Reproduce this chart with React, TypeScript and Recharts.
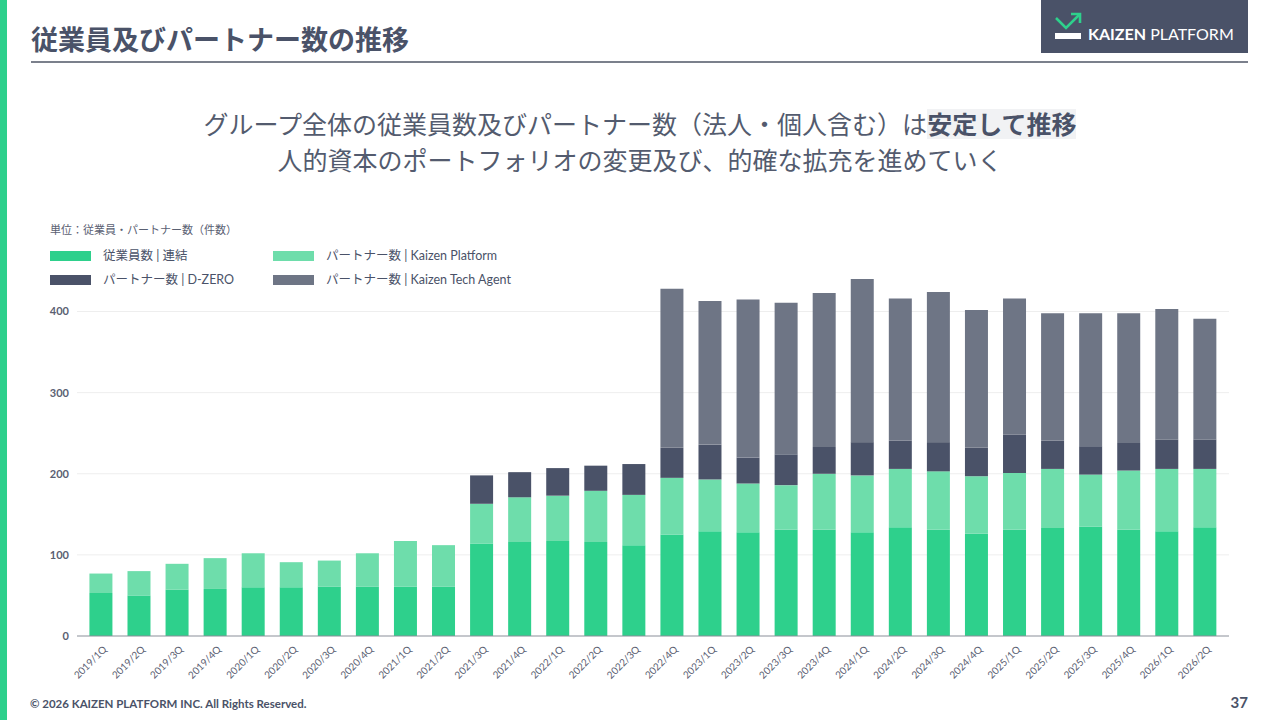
import React from 'react';
import { BarChart, Bar, XAxis, YAxis, CartesianGrid } from 'recharts';

const quarters = [
  '2019/1Q', '2019/2Q', '2019/3Q', '2019/4Q',
  '2020/1Q', '2020/2Q', '2020/3Q', '2020/4Q',
  '2021/1Q', '2021/2Q', '2021/3Q', '2021/4Q',
  '2022/1Q', '2022/2Q', '2022/3Q', '2022/4Q',
  '2023/1Q', '2023/2Q', '2023/3Q', '2023/4Q',
  '2024/1Q', '2024/2Q', '2024/3Q', '2024/4Q',
  '2025/1Q', '2025/2Q', '2025/3Q', '2025/4Q',
  '2026/1Q', '2026/2Q',
];

const employees = [53, 50, 57, 58, 60, 60, 61, 61, 61, 61, 114, 116, 117, 116, 112, 125, 129, 128, 131, 131, 128, 134, 131, 126, 131, 133, 135, 131, 129, 134];
const kaizenPlatform = [24, 30, 32, 38, 42, 31, 32, 41, 56, 51, 49, 55, 56, 63, 62, 70, 64, 60, 55, 69, 70, 72, 72, 71, 70, 73, 64, 73, 77, 72];
const dZero = [0, 0, 0, 0, 0, 0, 0, 0, 0, 0, 35, 31, 34, 31, 38, 37, 43, 32, 38, 33, 41, 35, 36, 35, 47, 35, 35, 34, 36, 36];
const kaizenTechAgent = [0, 0, 0, 0, 0, 0, 0, 0, 0, 0, 0, 0, 0, 0, 0, 196, 177, 195, 187, 190, 201, 175, 185, 170, 168, 157, 164, 160, 161, 149];

const yTicks = [0, 100, 200, 300, 400];
const gridValues = [100, 200, 300, 400];

const seriesNames = ['従業員数 | 連結', 'パートナー数 | Kaizen Platform', 'パートナー数 | D-ZERO', 'パートナー数 | Kaizen Tech Agent'];
const seriesColors = ['#2ED08C', '#6EDDAB', '#4A5268', '#6E7585'];

const data = quarters.map((q, i) => ({
  q,
  emp: employees[i],
  kp: kaizenPlatform[i],
  dz: dZero[i],
  kta: kaizenTechAgent[i],
}));

const FONT = "Lato, 'Noto Sans CJK JP', sans-serif";
const TEXT = '#4A5268';

const XTick = (props: any) => {
  const { x, y, payload } = props;
  const px = x + 6.5;
  const py = y + 6;
  return (
    <text
      x={px}
      y={py}
      transform={`rotate(-45, ${px}, ${py})`}
      textAnchor="end"
      fontSize={10}
      fill="#5a6072"
      fontFamily={FONT}
    >
      {payload.value}
    </text>
  );
};

const LegendItem = ({ color, label, left, top }: { color: string; label: string; left: number; top: number }) => (
  <div style={{ position: 'absolute', left, top, display: 'flex', alignItems: 'center', height: 12 }}>
    <div style={{ width: 41, height: 10, background: color }} />
    <div style={{ marginLeft: 12, fontSize: 12.5, color: TEXT, whiteSpace: 'nowrap', lineHeight: '12px' }}>{label}</div>
  </div>
);

export default function App() {
  return (
    <div style={{ position: 'fixed', left: 0, top: 0, width: 1280, height: 720, background: '#fff', fontFamily: FONT, overflow: 'hidden' }}>
      <div style={{ position: 'absolute', left: 0, top: 0, width: 7, height: 720, background: '#2ED08C' }} />
      <div style={{ position: 'absolute', left: 31, top: 22, fontSize: 27, fontWeight: 700, color: TEXT, lineHeight: '36px', whiteSpace: 'nowrap' }}>
        従業員及びパートナー数の推移
      </div>
      <div style={{ position: 'absolute', left: 31, top: 61, width: 1217, height: 2, background: '#7b808c' }} />
      <svg style={{ position: 'absolute', left: 1041, top: 0 }} width={207} height={53}>
        <rect x={0} y={0} width={207} height={53} fill="#4A5268" />
        <rect x={14} y={33} width={26} height={6} fill="#fff" />
        <polyline points="15,18 25,28 38,15" fill="none" stroke="#2ED08C" strokeWidth={2.6} />
        <polyline points="30,14 39,14 39,23" fill="none" stroke="#2ED08C" strokeWidth={2.6} />
        <text x={47} y={40} fontSize={16} fill="#fff" fontFamily={FONT}>
          <tspan fontWeight={700}>KAIZEN</tspan>
          <tspan> PLATFORM</tspan>
        </text>
      </svg>

      <div style={{ position: 'absolute', left: 0, width: 1280, top: 106, textAlign: 'center', fontSize: 25, color: '#535b6e', lineHeight: '36px', whiteSpace: 'nowrap' }}>
        グループ全体の従業員数及びパートナー数（法人・個人含む）は
        <span style={{ background: '#f1f2f4', fontWeight: 700, color: '#4A5268' }}>安定して推移</span>
      </div>
      <div style={{ position: 'absolute', left: 0, width: 1280, top: 142, textAlign: 'center', fontSize: 25, color: '#535b6e', lineHeight: '36px', whiteSpace: 'nowrap' }}>
        人的資本のポートフォリオの変更及び、的確な拡充を進めていく
      </div>

      <div style={{ position: 'absolute', left: 50, top: 221, fontSize: 11, color: '#5a6072', whiteSpace: 'nowrap' }}>
        単位：従業員・パートナー数（件数）
      </div>
      <LegendItem color={seriesColors[0]} label={seriesNames[0]} left={50} top={250} />
      <LegendItem color={seriesColors[1]} label={seriesNames[1]} left={273} top={250} />
      <LegendItem color={seriesColors[2]} label={seriesNames[2]} left={50} top={274} />
      <LegendItem color={seriesColors[3]} label={seriesNames[3]} left={273} top={274} />

      <div style={{ position: 'absolute', left: 0, top: 0 }}>
        <BarChart
          width={1280}
          height={720}
          data={data}
          margin={{ top: 271, right: 51, left: 37, bottom: 0 }}
          barCategoryGap="19.5%"
        >
          <CartesianGrid horizontal vertical={false} horizontalValues={gridValues} stroke="#eeeeee" />
          <XAxis
            dataKey="q"
            height={84}
            interval={0}
            tick={<XTick />}
            tickLine={false}
            axisLine={{ stroke: '#8a8f99', strokeWidth: 1 }}
            padding={{ left: 5, right: 5 }}
          />
          <YAxis
            width={40}
            domain={[0, 450]}
            ticks={yTicks}
            tickLine={false}
            axisLine={false}
            tickMargin={2}
            tick={{ fontSize: 11, fontWeight: 700, fill: '#5a6072', fontFamily: FONT }}
          />
          <Bar dataKey="emp" stackId="a" fill={seriesColors[0]} isAnimationActive={false} name={seriesNames[0]} />
          <Bar dataKey="kp" stackId="a" fill={seriesColors[1]} isAnimationActive={false} name={seriesNames[1]} />
          <Bar dataKey="dz" stackId="a" fill={seriesColors[2]} isAnimationActive={false} name={seriesNames[2]} />
          <Bar dataKey="kta" stackId="a" fill={seriesColors[3]} isAnimationActive={false} name={seriesNames[3]} />
        </BarChart>
      </div>

      <div style={{ position: 'absolute', left: 30, top: 697, fontSize: 11.5, fontWeight: 700, color: TEXT, whiteSpace: 'nowrap' }}>
        © 2026 KAIZEN PLATFORM INC. All Rights Reserved.
      </div>
      <div style={{ position: 'absolute', right: 32, top: 693, fontSize: 15, fontWeight: 700, color: TEXT }}>37</div>
    </div>
  );
}
